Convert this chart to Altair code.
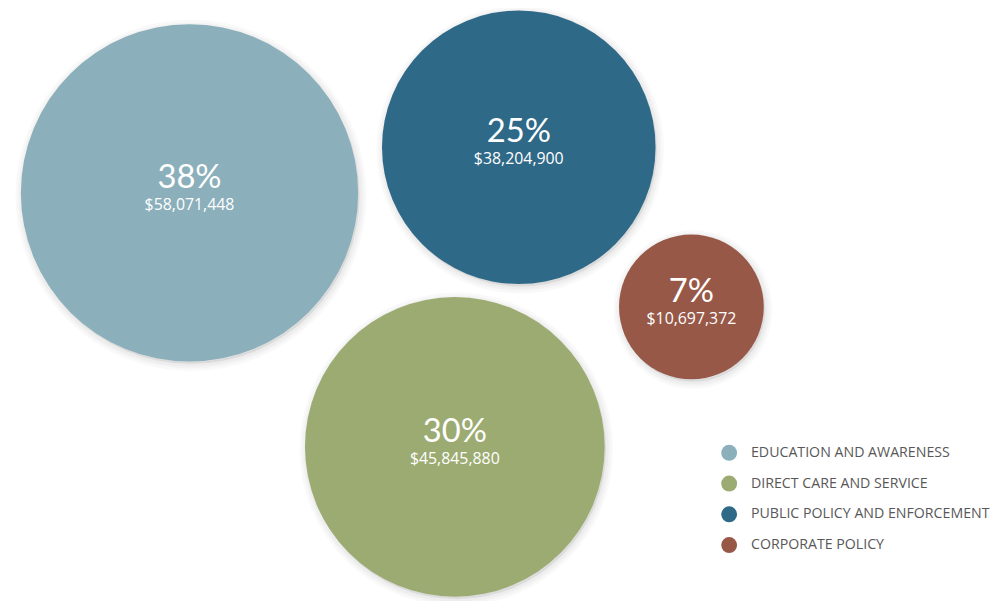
import altair as alt
import pandas as pd

# ---- data ----
categories = [
    "EDUCATION AND AWARENESS",
    "DIRECT CARE AND SERVICE",
    "PUBLIC POLICY AND ENFORCEMENT",
    "CORPORATE POLICY",
]
amounts = [58071448, 45845880, 38204900, 10697372]
# bubble layout (abstract layout units, 0-100 across / down the canvas)
layout_x = [18.39, 45.27, 51.75, 69.24]
layout_y = [31.03, 74.20, 23.27, 50.42]
palette = ["#8BAFBB", "#9CAB72", "#2F6988", "#985848"]

df = pd.DataFrame({"category": categories, "amount": amounts, "lx": layout_x, "ly": layout_y})

R_MAX = 170
base = (
    alt.Chart(df)
    .transform_joinaggregate(total="sum(amount)")
    .transform_calculate(share="datum.amount / datum.total")
)

x = alt.X("lx:Q", scale=alt.Scale(domain=[0, 100]), axis=None)
y = alt.Y("ly:Q", scale=alt.Scale(domain=[0, 100], reverse=True), axis=None)
size = alt.Size(
    "amount:Q",
    scale=alt.Scale(type="linear", domain=[0, max(amounts)], range=[0, (2 * R_MAX) ** 2]),
    legend=None,
)

# soft drop shadow built from a few faint, offset circles
shadows = [
    base.mark_circle(
        color="#000000", fillOpacity=0.025, stroke="#000000", strokeOpacity=0.022,
        strokeWidth=w, xOffset=1.5, yOffset=2.5,
    ).encode(x=x, y=y, size=size)
    for w in [14, 9, 5]
]

circles = base.mark_circle(opacity=1).encode(
    x=x,
    y=y,
    size=size,
    color=alt.Color(
        "category:N",
        scale=alt.Scale(domain=categories, range=palette),
        legend=alt.Legend(
            title=None,
            orient="none",
            legendX=719,
            legendY=438,
            padding=0,
            symbolType="circle",
            symbolSize=256,
            symbolStrokeWidth=0,
            symbolOpacity=1,
            labelFont="Open Sans",
            labelFontSize=14.3,
            labelColor="#585858",
            labelOffset=14,
            rowPadding=15,
            labelLimit=400,
        ),
    ),
)

pct = base.mark_text(
    font="Lato", fontSize=33, color="white", baseline="alphabetic", dy=-5
).encode(x=x, y=y, text=alt.Text("share:Q", format=".0%"))

amt = base.mark_text(
    font="Open Sans", fontSize=16, color="white", baseline="alphabetic", dy=17
).encode(x=x, y=y, text=alt.Text("amount:Q", format="$,.0f"))

chart = (
    alt.layer(*shadows, circles, pct, amt)
    .properties(
        width=995, height=593, padding=0, background="white",
        autosize=alt.AutoSizeParams(type="none"),
    )
    .configure_view(strokeWidth=0)
)

chart.save("out.html", embed_options={"renderer": "svg", "actions": False})
